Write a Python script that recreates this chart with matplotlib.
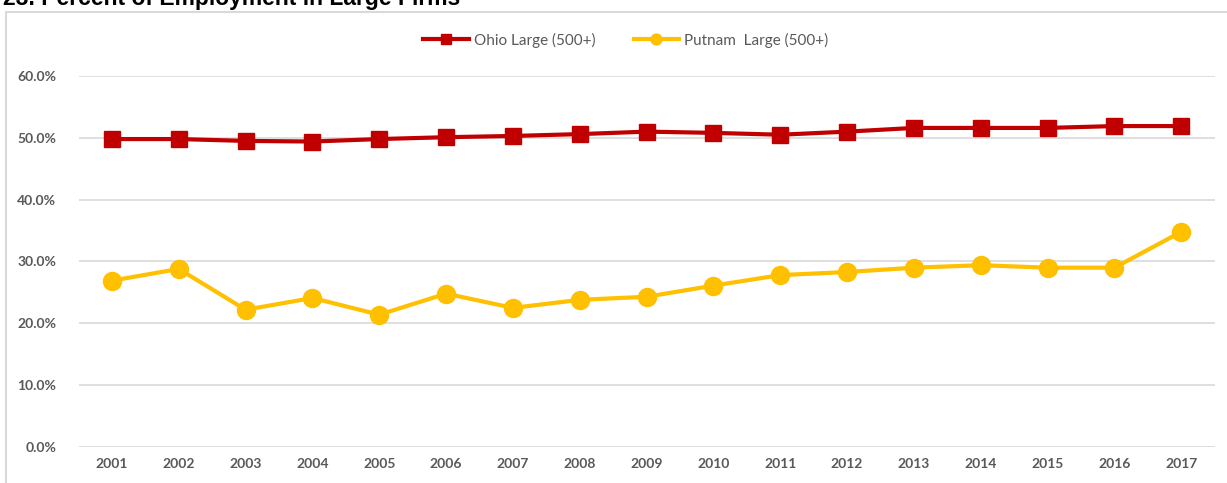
import numpy as np
import matplotlib.pyplot as plt
from matplotlib.patches import Rectangle
from matplotlib.ticker import PercentFormatter

years = ["2001", "2002", "2003", "2004", "2005", "2006", "2007", "2008", "2009",
         "2010", "2011", "2012", "2013", "2014", "2015", "2016", "2017"]
ohio_large = [49.8, 49.8, 49.5, 49.4, 49.8, 50.1, 50.3, 50.6, 51.0,
              50.8, 50.5, 51.0, 51.6, 51.6, 51.6, 51.9, 51.9]
putnam_large = [26.9, 28.8, 22.2, 24.1, 21.4, 24.8, 22.5, 23.8, 24.3,
                26.1, 27.8, 28.3, 29.0, 29.4, 29.0, 29.0, 34.8]

plt.rcParams['font.family'] = ['Lato', 'DejaVu Sans']
gray = '#595959'

fig = plt.figure(figsize=(12.27, 4.83), dpi=100)
# chart frame (cut off on the right and bottom like the source)
fig.patches.append(Rectangle((6 / 1227, -0.1), 1.2, 1.1 - 12 / 483,
                             transform=fig.transFigure, fill=False,
                             edgecolor='#D9D9D9', linewidth=1.5))
# title sits mostly above the top edge, as in the source screenshot
fig.text(3 / 1227, 1 + 1 / 483, "23. Percent of Employment in Large Firms",
         fontsize=16.5, fontweight='bold', color='black',
         family=['Liberation Sans', 'DejaVu Sans'], va='center', ha='left')

ax = fig.add_axes([0.064, 0.0745, 0.926, 0.7682])
x = np.arange(len(years))
ax.plot(x, ohio_large, color='#C00000', linewidth=3, marker='s',
        markersize=12, label='Ohio Large (500+)', zorder=3)
ax.plot(x, putnam_large, color='#FFC000', linewidth=3, marker='o',
        markersize=13, label='Putnam  Large (500+)', zorder=3)

ax.set_xlim(-0.5, len(years) - 0.5)
ax.set_ylim(0, 60)
ax.set_yticks(np.arange(0, 61, 10))
ax.yaxis.set_major_formatter(PercentFormatter(decimals=1))
ax.set_xticks(x)
ax.set_xticklabels(years)
ax.grid(axis='y', color='#D9D9D9', linewidth=1.2)
ax.set_axisbelow(True)
for s in ax.spines.values():
    s.set_visible(False)
ax.tick_params(length=0, labelsize=10, labelcolor=gray, pad=8)
for lab in ax.get_xticklabels() + ax.get_yticklabels():
    lab.set_fontweight('bold')
ax.tick_params(axis='y', pad=16)

leg = fig.legend(loc='center', bbox_to_anchor=(0.51, 1 - 40 / 483), ncol=2,
                 frameon=False, fontsize=11, handlelength=3,
                 handletextpad=0.3, columnspacing=2.5, markerscale=0.6)
for t in leg.get_texts():
    t.set_color(gray)

fig.savefig('out.png', dpi=100)
